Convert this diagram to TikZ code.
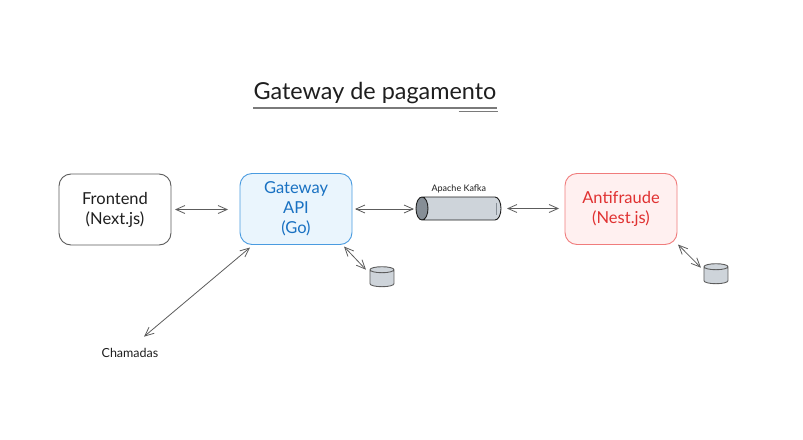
\documentclass[tikz,border=0pt]{standalone}
\usepackage{fontspec}
\setmainfont{Lato}
\usetikzlibrary{arrows.meta,positioning,calc,shapes.geometric}
\definecolor{SketchInk}{HTML}{1E1E1E}
\definecolor{SketchLine}{HTML}{5C5C5C}
\definecolor{SketchRule}{HTML}{7A7A7A}
\definecolor{SketchGrey}{HTML}{CED4DA}
\definecolor{SketchDark}{HTML}{868E96}
\definecolor{GateBlue}{HTML}{1971C2}
\definecolor{GateEdge}{HTML}{4A9BE0}
\definecolor{GatePale}{HTML}{EAF5FD}
\definecolor{FraudRed}{HTML}{E03131}
\definecolor{FraudEdge}{HTML}{F07C7C}
\definecolor{FraudPale}{HTML}{FFF0F0}

\begin{document}
\begin{tikzpicture}[
  x=1pt,y=1pt,
  service/.style={rounded corners=12pt,line width=0.9pt,outer sep=0pt,
    minimum width=112pt,minimum height=71pt,align=center,font=\fontsize{16.5}{20}\selectfont},
  store/.style={cylinder,shape border rotate=90,aspect=0.9,draw=SketchLine,line width=0.9pt,outer sep=0pt,
    cylinder uses custom fill,cylinder body fill=SketchGrey,cylinder end fill=SketchGrey,
    minimum width=24pt,minimum height=20pt},
  caption/.style={text=SketchInk,inner sep=0pt},
  arr/.style={{Straight Barb[length=9pt,width=8pt]}-{Straight Barb[length=9pt,width=8pt]},line width=0.8pt,draw=SketchLine}
]
\useasboundingbox (0,0) rectangle (803,-439);
\node[font=\fontsize{23.4}{28}\selectfont,text=SketchInk,inner sep=0pt] (title) at (375,-93.5) {Gateway de pagamento};
\node[service,draw=SketchLine,text=SketchInk,fill=white] (frontend) at (115,-209.5) {Frontend\\(Next.js)};
\node[service,draw=GateEdge,text=GateBlue,fill=GatePale,right=69pt of frontend,yshift=0.5pt] (gateway) {Gateway\\API\\(Go)};
\node[cylinder,shape border rotate=180,aspect=1.8,draw=SketchInk,line width=0.9pt,outer sep=0pt,
  cylinder uses custom fill,cylinder body fill=SketchGrey,cylinder end fill=SketchDark,
  minimum width=23pt,minimum height=85pt,right=64pt of gateway,yshift=0.5pt] (kafka) {};
\node[service,draw=FraudEdge,text=FraudRed,fill=FraudPale,right=64pt of kafka,yshift=-0.5pt] (antifraude) {Antifraude\\(Nest.js)};
\node[caption,font=\fontsize{9}{11}\selectfont,above=3.5pt of kafka,xshift=-5pt] (kafkalabel) {Apache Kafka};
\node[store,below right=24pt and 19pt of gateway.south east,anchor=north west] (gatewaydb) {};
\node[store,below right=21pt and 28pt of antifraude.south east,anchor=north west] (fraudb) {};
\node[caption,font=\fontsize{12.5}{15}\selectfont] (chamadas) at (130,-352.5) {Chamadas};
\draw[SketchRule,line width=1.1pt] ([yshift=-3.5pt]title.south west) coordinate (ula) -- (ula -| title.south east) coordinate (ulb);
\draw[SketchRule,line width=0.6pt] ([xshift=-38pt,yshift=-3pt]ulb) coordinate (ulc) -- ([xshift=1pt]ulc -| ulb);
\draw[SketchDark,line width=0.8pt] ([shift={(33pt,6pt)}]kafka.center) -- ([shift={(33pt,-6pt)}]kafka.center);
\draw[arr] ([xshift=4pt]frontend.east) -- ([xshift=-12pt]frontend.east -| gateway.west);
\draw[arr] ([xshift=3pt]gateway.east) -- ([xshift=-2pt]gateway.east -| kafka.top);
\draw[arr] ([xshift=6pt]kafka.bottom) -- ([xshift=-6pt,yshift=0.5pt]antifraude.west);
\draw[arr] ([shift={(-8pt,-2pt)}]gateway.south east) -- ([shift={(-4pt,0pt)}]gatewaydb.before top);
\draw[arr] ([shift={(1pt,0pt)}]antifraude.south east) -- ([shift={(-3pt,-1pt)}]fraudb.before top);
\draw[arr] ([shift={(10pt,-3pt)}]gateway.south west) -- ([shift={(14pt,11pt)}]chamadas.north);
\end{tikzpicture}
\end{document}
